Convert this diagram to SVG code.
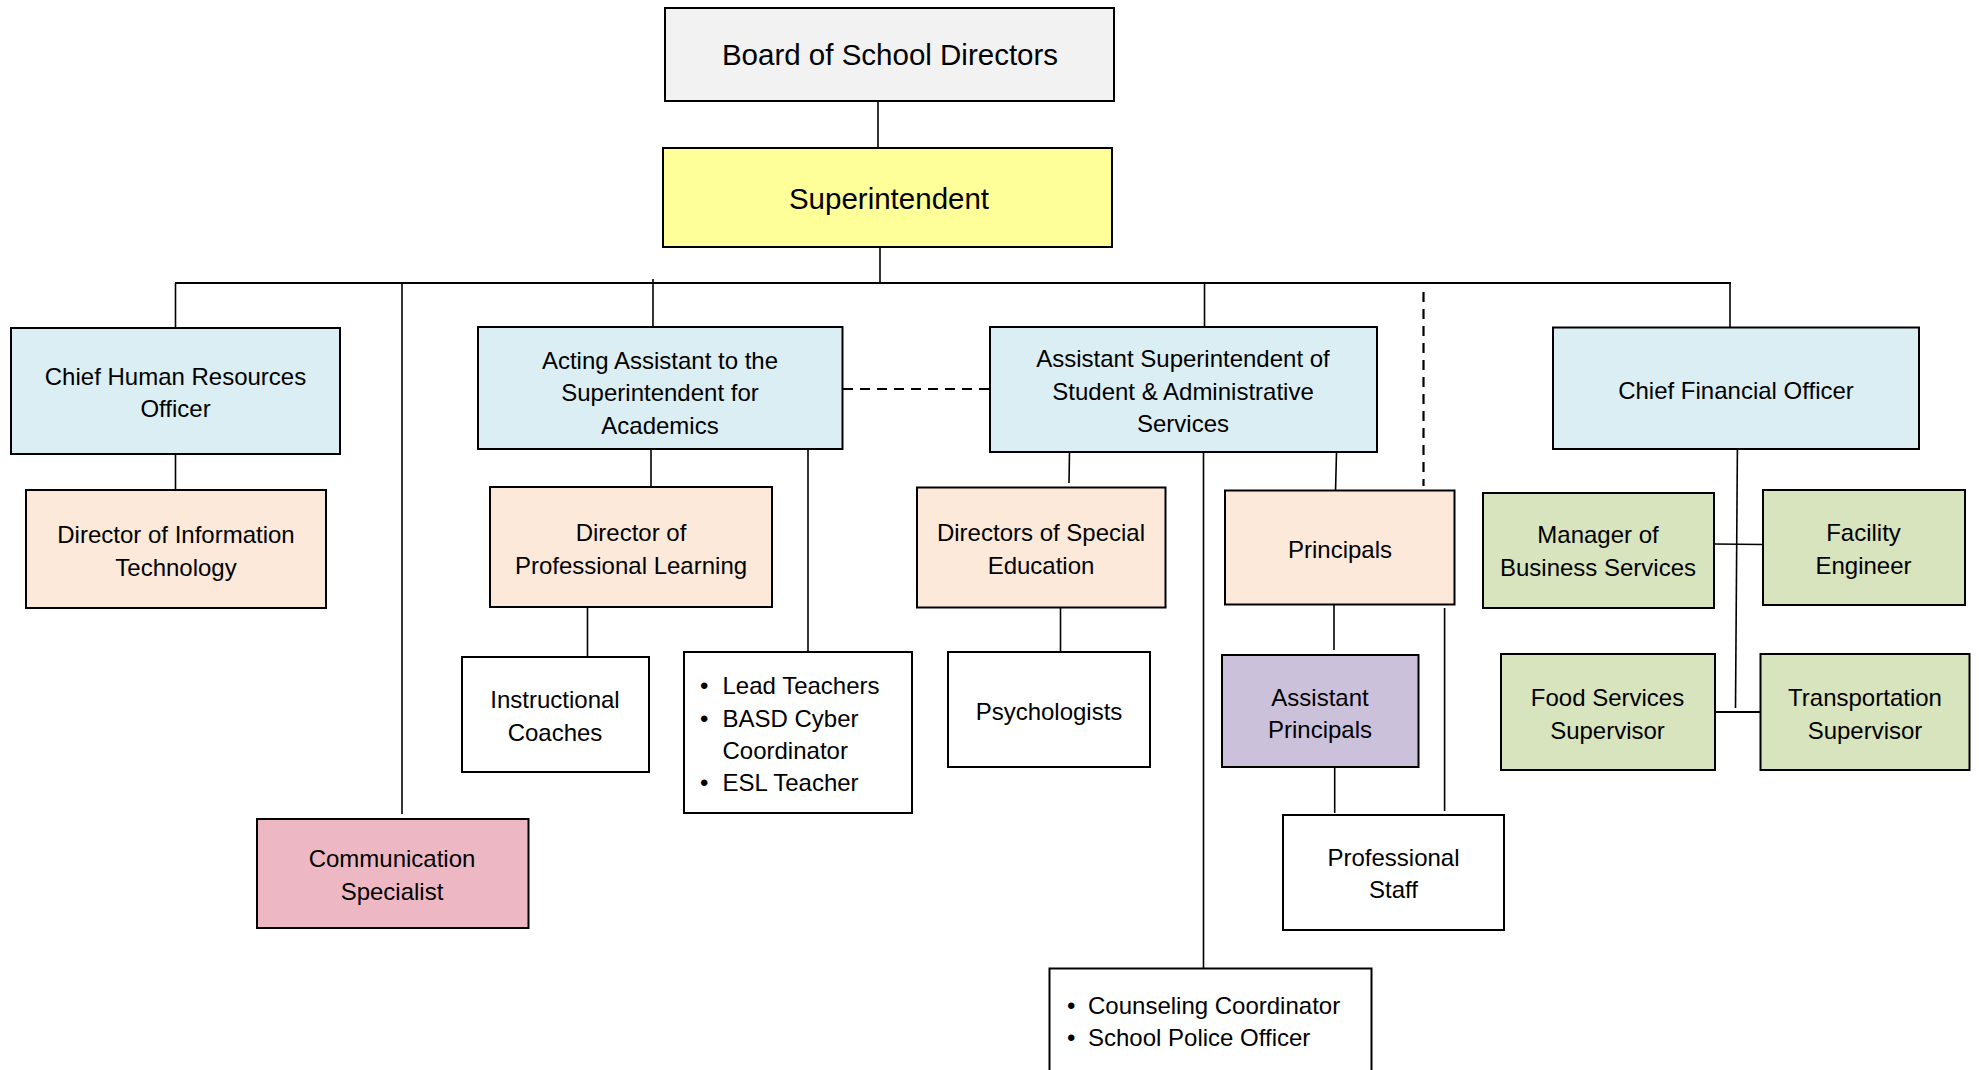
<svg xmlns="http://www.w3.org/2000/svg" width="1979" height="1070" viewBox="0 0 1979 1070">
<style>
.box{stroke:#000;stroke-width:2}
.t{font-family:"Liberation Sans",Arial,sans-serif;font-size:24px;fill:#000;text-anchor:middle}
.tl{font-family:"Liberation Sans",Arial,sans-serif;font-size:24px;fill:#000;text-anchor:start}
.big{font-size:29.5px}
.ln{stroke:#000;stroke-width:1.6;fill:none}
.dash{stroke:#000;stroke-width:2.2;fill:none;stroke-dasharray:10 7}
.blue{fill:#daeef3}.peach{fill:#fde9d9}.green{fill:#d7e4bd}.purple{fill:#ccc1da}.pink{fill:#edb8c4}.white{fill:#fff}
</style>
<rect width="1979" height="1070" fill="#fff"/>
<g id="connectors">
<line class="ln" x1="878" y1="101" x2="878" y2="148"/>
<line class="ln" x1="880" y1="247" x2="880" y2="283"/>
<line x1="175" y1="283" x2="1731" y2="283" stroke="#000" stroke-width="2.2"/>
<line class="ln" x1="175.5" y1="283" x2="175.5" y2="328"/>
<line class="ln" x1="402" y1="283" x2="402" y2="814"/>
<line class="ln" x1="653" y1="279" x2="653" y2="327"/>
<line class="ln" x1="1204.5" y1="283" x2="1204.5" y2="327"/>
<line class="dash" x1="1423.5" y1="292" x2="1423.5" y2="486"/>
<line class="ln" x1="1730" y1="283" x2="1730" y2="335"/>
<line class="ln" x1="175.5" y1="454" x2="175.5" y2="490"/>
<line class="dash" x1="843" y1="389" x2="990" y2="389"/>
<line class="ln" x1="651" y1="449" x2="651" y2="487"/>
<line class="ln" x1="808" y1="449" x2="808" y2="652"/>
<line class="ln" x1="587.5" y1="607" x2="587.5" y2="657"/>
<line class="ln" x1="1069.5" y1="452" x2="1069" y2="483"/>
<line class="ln" x1="1203.5" y1="452" x2="1203.5" y2="968"/>
<line class="ln" x1="1336.5" y1="452" x2="1335.5" y2="492"/>
<line class="ln" x1="1060.5" y1="608" x2="1060.5" y2="657"/>
<line class="ln" x1="1334" y1="604" x2="1334" y2="650"/>
<line class="ln" x1="1334.7" y1="767" x2="1334.7" y2="813"/>
<line class="ln" x1="1444.6" y1="608" x2="1444.6" y2="811"/>
<line class="ln" x1="1737.4" y1="449" x2="1735.5" y2="708"/>
<line class="ln" x1="1714" y1="544" x2="1763" y2="544.5"/>
<line x1="1715" y1="712" x2="1760.5" y2="712" stroke="#000" stroke-width="2.2"/>
</g>
<g id="board"><rect class="box" x="665" y="8" width="449" height="93" fill="#f2f2f2"/><text class="t big" x="890" y="64.5">Board of School Directors</text></g>
<g id="superintendent"><rect class="box" x="663" y="148" width="449" height="99" fill="#ffff99"/><text class="t big" x="889" y="208.5">Superintendent</text></g>
<g id="chief-hr"><rect class="box blue" x="11" y="328" width="329" height="126"/><text class="t" x="175.5"><tspan x="175.5" y="384.5">Chief Human Resources</tspan><tspan x="175.5" y="416.5">Officer</tspan></text></g>
<g id="dir-it"><rect class="box peach" x="26" y="490" width="300" height="118"/><text class="t"><tspan x="176" y="542.5">Director of Information</tspan><tspan x="176" y="575.5">Technology</tspan></text></g>
<g id="acting-asst"><rect class="box blue" x="478" y="327" width="364.5" height="122"/><text class="t"><tspan x="660" y="369">Acting Assistant to the</tspan><tspan x="660" y="400.5">Superintendent for</tspan><tspan x="660" y="433.5">Academics</tspan></text></g>
<g id="dir-pl"><rect class="box peach" x="490" y="487" width="282" height="120"/><text class="t"><tspan x="631" y="540.5">Director of</tspan><tspan x="631" y="574">Professional Learning</tspan></text></g>
<g id="instr-coaches"><rect class="box white" x="462" y="657" width="187" height="115"/><text class="t"><tspan x="555" y="707.5">Instructional</tspan><tspan x="555" y="741">Coaches</tspan></text></g>
<g id="lead-teachers"><rect class="box white" x="684" y="652" width="228" height="161"/><text class="tl"><tspan x="700" y="693.5">•</tspan><tspan x="722.5" y="693.5">Lead Teachers</tspan><tspan x="700" y="726.5">•</tspan><tspan x="722.5" y="726.5">BASD Cyber</tspan><tspan x="722.5" y="758.5">Coordinator</tspan><tspan x="700" y="791">•</tspan><tspan x="722.5" y="791">ESL Teacher</tspan></text></g>
<g id="comm-specialist"><rect class="box pink" x="257" y="819" width="271.5" height="109"/><text class="t"><tspan x="392" y="866.5">Communication</tspan><tspan x="392" y="899.5">Specialist</tspan></text></g>
<g id="asst-supt"><rect class="box blue" x="990" y="327" width="387" height="125"/><text class="t"><tspan x="1183" y="367">Assistant Superintendent of</tspan><tspan x="1183" y="399.5">Student &amp; Administrative</tspan><tspan x="1183" y="432">Services</tspan></text></g>
<g id="dir-sped"><rect class="box peach" x="917" y="487.5" width="248.5" height="120"/><text class="t"><tspan x="1041" y="540.5">Directors of Special</tspan><tspan x="1041" y="574">Education</tspan></text></g>
<g id="psychologists"><rect class="box white" x="948" y="652" width="202" height="115"/><text class="t" x="1049" y="720">Psychologists</text></g>
<g id="principals"><rect class="box peach" x="1225" y="490.5" width="229.5" height="114"/><text class="t" x="1340" y="558">Principals</text></g>
<g id="asst-principals"><rect class="box purple" x="1222" y="655" width="196.5" height="112"/><text class="t"><tspan x="1320" y="705.5">Assistant</tspan><tspan x="1320" y="737.5">Principals</tspan></text></g>
<g id="prof-staff"><rect class="box white" x="1283" y="815" width="221" height="115"/><text class="t"><tspan x="1393.5" y="866">Professional</tspan><tspan x="1393.5" y="897.5">Staff</tspan></text></g>
<g id="counseling"><rect class="box white" x="1049.5" y="968.5" width="322" height="120"/><text class="tl"><tspan x="1067" y="1014">•</tspan><tspan x="1088" y="1014">Counseling Coordinator</tspan><tspan x="1067" y="1046">•</tspan><tspan x="1088" y="1046">School Police Officer</tspan></text></g>
<g id="cfo"><rect class="box blue" x="1553" y="327.5" width="366" height="121.5"/><text class="t" x="1736" y="398.5">Chief Financial Officer</text></g>
<g id="mgr-business"><rect class="box green" x="1483" y="493" width="231" height="115"/><text class="t"><tspan x="1598" y="542.5">Manager of</tspan><tspan x="1598" y="576">Business Services</tspan></text></g>
<g id="facility-eng"><rect class="box green" x="1763" y="490" width="202" height="115"/><text class="t"><tspan x="1863.5" y="540.5">Facility</tspan><tspan x="1863.5" y="573.5">Engineer</tspan></text></g>
<g id="food-services"><rect class="box green" x="1501" y="654" width="214" height="116"/><text class="t"><tspan x="1607.5" y="705.5">Food Services</tspan><tspan x="1607.5" y="738.5">Supervisor</tspan></text></g>
<g id="transportation"><rect class="box green" x="1760.5" y="654" width="209" height="116"/><text class="t"><tspan x="1865" y="705.5">Transportation</tspan><tspan x="1865" y="738.5">Supervisor</tspan></text></g>
</svg>
